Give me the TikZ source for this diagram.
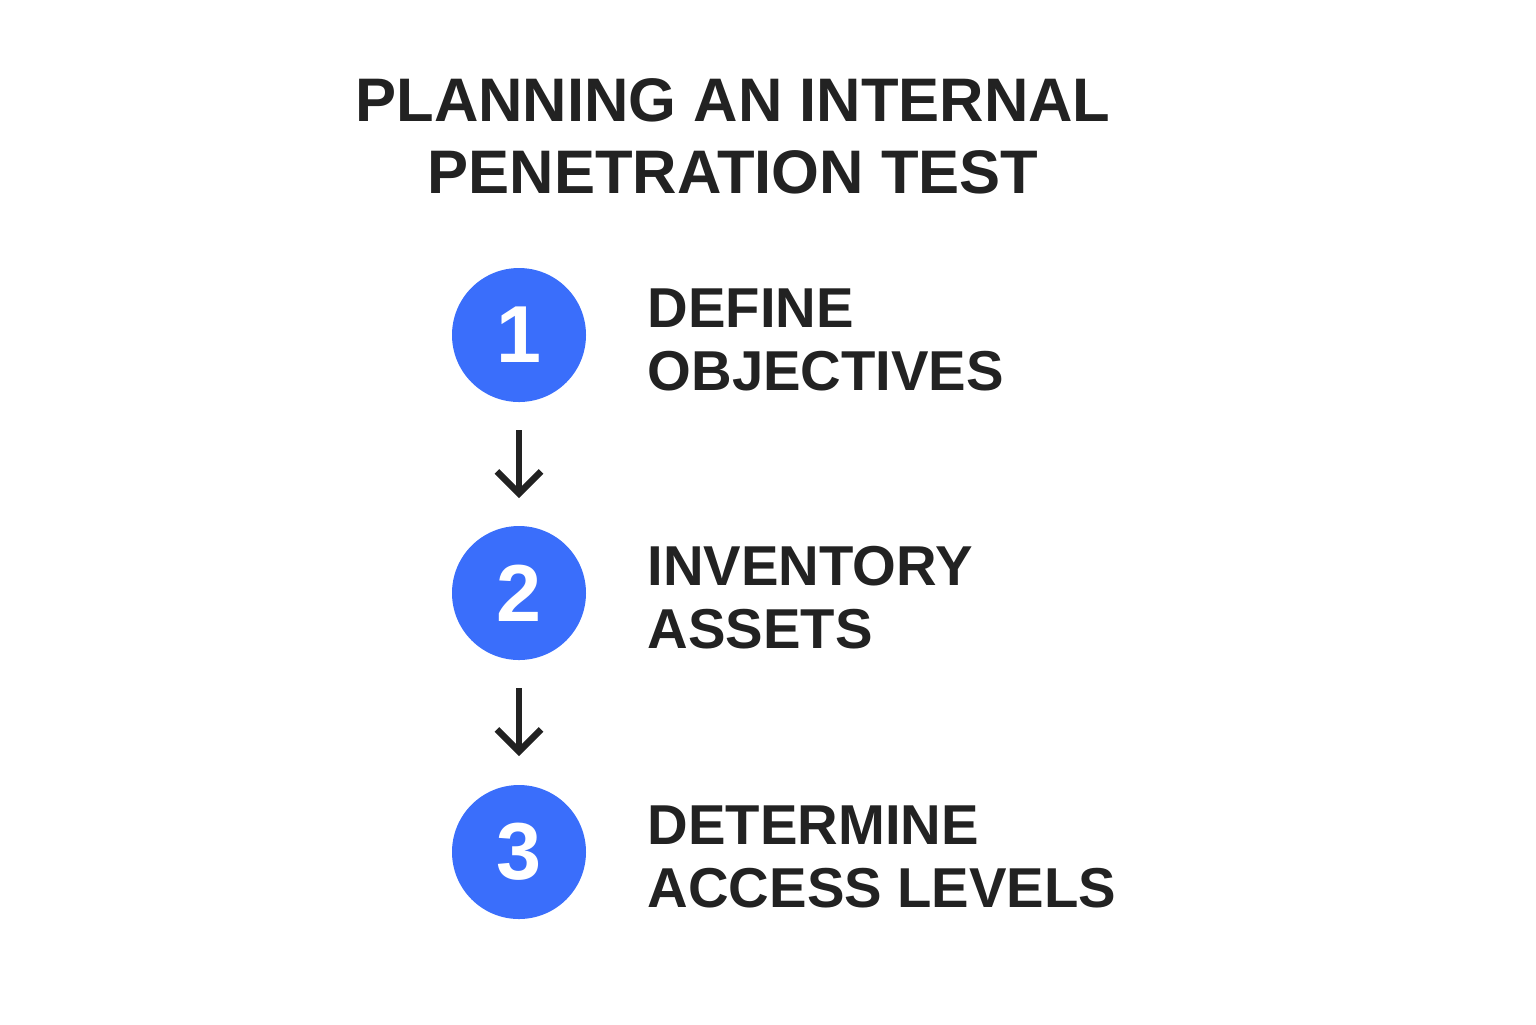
\documentclass[tikz,border=0pt]{standalone}
\usepackage{fontspec}
\setmainfont{Liberation Sans}
\usetikzlibrary{arrows.meta}
\definecolor{cblue}{HTML}{3A6EFB}
\definecolor{ink}{HTML}{222222}
\tikzset{
  stepcirc/.style={circle,fill=cblue,minimum size=13.4mm,inner sep=0pt,text=white,font=\fontsize{23}{23}\selectfont\bfseries},
  steplabel/.style={anchor=west,align=left,text=ink,font=\fontsize{16}{17.9}\selectfont\bfseries,inner sep=0pt},
  flow/.style={ink,line width=0.65mm,-{Straight Barb[length=2.2mm,width=4.4mm,line width=0.65mm]}}
}
\begin{document}
\begin{tikzpicture}[x=1mm,y=-1mm]
\useasboundingbox (0,0) rectangle (153.6,102.4);
\node[text=ink,align=center,font=\fontsize{17.5}{20.5}\selectfont\bfseries] (title) at (73.3,13.6) {PLANNING AN INTERNAL\\PENETRATION TEST};
\node[stepcirc] (c1) at (51.9,33.5) {1};
\node[stepcirc] (c2) at (51.9,59.3) {2};
\node[stepcirc] (c3) at (51.9,85.2) {3};
\node[steplabel] (l1) at (64.7,34.0) {DEFINE\\OBJECTIVES};
\node[steplabel] (l2) at (64.7,59.8) {INVENTORY\\ASSETS};
\node[steplabel] (l3) at (64.7,85.7) {DETERMINE\\ACCESS LEVELS};
\coordinate (a1s) at (51.9,43.0); \coordinate (a1e) at (51.9,49.8);
\coordinate (a2s) at (51.9,68.8); \coordinate (a2e) at (51.9,75.6);
\draw[flow] (a1s) -- (a1e);
\draw[flow] (a2s) -- (a2e);
\end{tikzpicture}
\end{document}
